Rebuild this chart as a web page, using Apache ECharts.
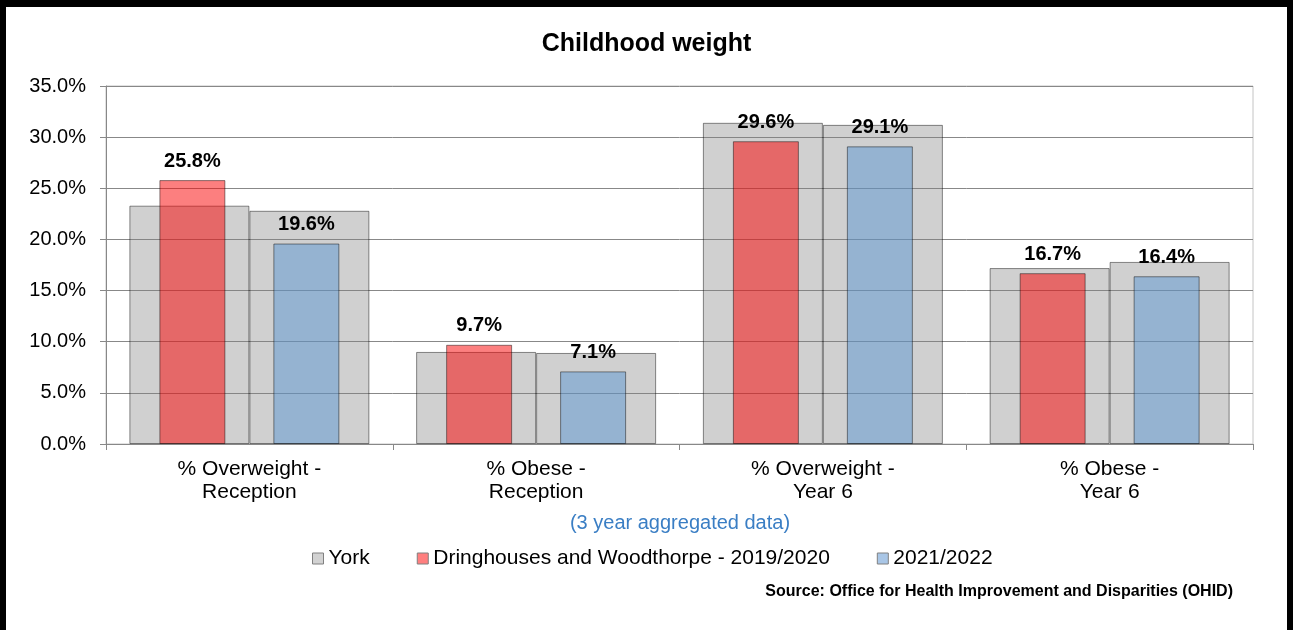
<!DOCTYPE html>
<html>
<head>
<meta charset="utf-8">
<script src="https://cdn.jsdelivr.net/npm/echarts@6/dist/echarts.min.js"></script>
<style>
  html, body { margin: 0; padding: 0; background: #fff; }
  #wrap { position: relative; width: 1293px; height: 630px; }
  #chart { position: absolute; left: 0; top: 0; width: 1293px; height: 630px; }
  #frame { position: absolute; left: 0; top: 0; width: 1293px; height: 630px; box-sizing: border-box;
           border-top: 7px solid #000; border-left: 6px solid #000; border-right: 6px solid #000; pointer-events: none; }
</style>
</head>
<body>
<div id="wrap"><div id="chart"></div><div id="frame"></div></div>
<script>
const categories = ['% Overweight -\nReception', '% Obese -\nReception', '% Overweight -\nYear 6', '% Obese -\nYear 6'];
const york2019 = [23.3, 9.0, 31.4, 17.2];
const york2021 = [22.8, 8.9, 31.2, 17.8];
const dring2019 = [25.8, 9.7, 29.6, 16.7];
const dring2021 = [19.6, 7.1, 29.1, 16.4];
const yTicks = { min: 0, max: 35, interval: 5 };

const FONT = '"Liberation Sans", Arial, sans-serif';
const chart = echarts.init(document.getElementById('chart'), null, { renderer: 'canvas' });

const barBorder = { borderColor: 'rgba(0,0,0,0.45)', borderWidth: 1 };
const labelCfg = {
  show: true, position: 'top', distance: 9,
  formatter: p => p.value.toFixed(1) + '%',
  fontFamily: FONT, fontSize: 20, fontWeight: 'bold', color: '#000'
};

chart.setOption({
  animation: false,
  backgroundColor: '#fff',
  grid: { left: 106, right: 40, top: 86, bottom: 186, show: true, borderColor: '#c4c4c4', borderWidth: 1, backgroundColor: 'transparent' },
  legend: {
    left: 307, top: 543, itemWidth: 11, itemHeight: 11, itemGap: 47, icon: 'rect',
    textStyle: { fontFamily: FONT, fontSize: 21, color: '#000' },
    data: [
      { name: 'York', itemStyle: { color: '#d2d2d2', borderColor: '#808080', borderWidth: 1 } },
      { name: 'Dringhouses and Woodthorpe - 2019/2020', itemStyle: { color: '#ff7f7f', borderColor: '#808080', borderWidth: 1 } },
      { name: '2021/2022', itemStyle: { color: '#a9c6e6', borderColor: '#808080', borderWidth: 1 } }
    ]
  },
  graphic: [
    { type: 'text', left: 'center', top: 32, style: { text: 'Childhood weight', fontFamily: FONT, fontSize: 25, fontWeight: 'bold', fill: '#000' } },
    { type: 'text', x: 680, y: 523, style: { text: '(3 year aggregated data)', fontFamily: FONT, fontSize: 20, fill: '#3a7ec4', align: 'center', verticalAlign: 'middle' } },
    { type: 'text', x: 1233, y: 592, style: { text: 'Source: Office for Health Improvement and Disparities (OHID)', fontFamily: FONT, fontSize: 16, fontWeight: 'bold', fill: '#000', align: 'right', verticalAlign: 'middle' } }
  ],
  xAxis: [
    {
      type: 'category', data: categories,
      axisLine: { lineStyle: { color: '#888', width: 1 } },
      axisTick: { show: true, length: 6, lineStyle: { color: '#888' } },
      axisLabel: { fontFamily: FONT, fontSize: 21, color: '#000', lineHeight: 23, margin: 14, interval: 0 }
    },
    { type: 'category', data: categories, show: false }
  ],
  yAxis: {
    type: 'value', min: yTicks.min, max: yTicks.max, interval: yTicks.interval,
    axisLine: { show: true, lineStyle: { color: '#888', width: 1 } },
    axisTick: { show: true, length: 6, lineStyle: { color: '#888' } },
    splitLine: { lineStyle: { color: '#888', width: 1 } },
    axisLabel: { fontFamily: FONT, fontSize: 20, color: '#000', margin: 20, formatter: v => v.toFixed(1) + '%' }
  },
  series: [
    { name: 'York', type: 'bar', xAxisIndex: 0, data: york2019, barWidth: 120, barGap: '0%', z: 2,
      itemStyle: Object.assign({ color: 'rgba(128,128,128,0.37)' }, barBorder) },
    { name: 'York', type: 'bar', xAxisIndex: 0, data: york2021, barWidth: 120, barGap: '0%', z: 2,
      itemStyle: Object.assign({ color: 'rgba(128,128,128,0.37)' }, barBorder) },
    { name: 'Dringhouses and Woodthorpe - 2019/2020', type: 'bar', xAxisIndex: 1, data: dring2019, barWidth: 66, barGap: '72.7%', z: 3,
      itemStyle: Object.assign({ color: 'rgba(250,0,0,0.5)' }, barBorder), label: labelCfg },
    { name: '2021/2022', type: 'bar', xAxisIndex: 1, data: dring2021, barWidth: 66, barGap: '72.7%', z: 3,
      itemStyle: Object.assign({ color: 'rgba(90,150,210,0.5)' }, barBorder), label: labelCfg }
  ]
});
</script>
</body>
</html>
